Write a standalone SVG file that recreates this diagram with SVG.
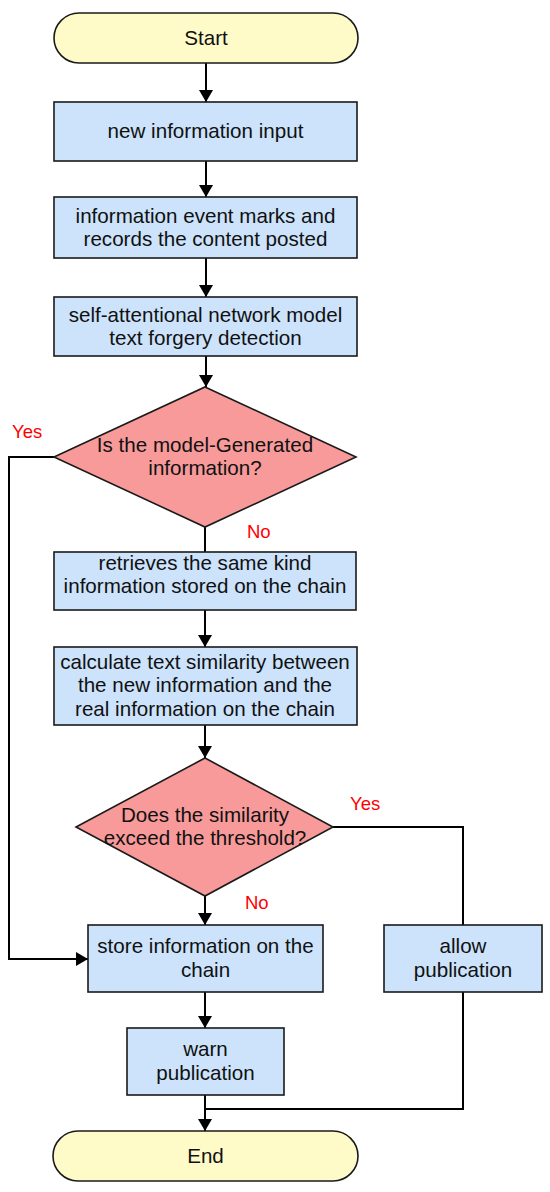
<svg xmlns="http://www.w3.org/2000/svg" width="550" height="1192" viewBox="0 0 550 1192">
<style>
.term{fill:#FFFBC9;stroke:#1a1a1a;stroke-width:1.6}
.box{fill:#CCE3FB;stroke:#1a1a1a;stroke-width:1.6}
.dec{fill:#F89A9A;stroke:#1a1a1a;stroke-width:1.6}
.t{font-family:"Liberation Sans",Arial,sans-serif;font-size:20.6px;fill:#111;text-anchor:middle}
.lbl{font-family:"Liberation Sans",Arial,sans-serif;font-size:18.5px;fill:#ff0000}
.c{fill:none;stroke:#000;stroke-width:2}
</style>
<defs>
<marker id="ah" markerWidth="12" markerHeight="14" refX="12" refY="7" orient="auto" markerUnits="userSpaceOnUse">
<path d="M0,0 L12,7 L0,14 Z" fill="#000"/>
</marker>
</defs>
<rect width="550" height="1192" fill="#fff"/>
<g id="connectors">
<path class="c" d="M206,63 V102" marker-end="url(#ah)"/>
<path class="c" d="M206,161 V197" marker-end="url(#ah)"/>
<path class="c" d="M206,258 V297" marker-end="url(#ah)"/>
<path class="c" d="M206,356 V387" marker-end="url(#ah)"/>
<path class="c" d="M205,527 V552"/>
<path class="c" d="M205,610 V647" marker-end="url(#ah)"/>
<path class="c" d="M205,725 V758" marker-end="url(#ah)"/>
<path class="c" d="M205,896 V925" marker-end="url(#ah)"/>
<path class="c" d="M54,457 H9 V959 H88" marker-end="url(#ah)"/>
<path class="c" d="M333,827 H463 V925"/>
<path class="c" d="M205,992 V1028" marker-end="url(#ah)"/>
<path class="c" d="M205,1095 V1131" marker-end="url(#ah)"/>
<path class="c" d="M463,992 V1109 H205"/>
</g>
<g id="start">
<rect class="term" x="54" y="13" width="304" height="50" rx="25"/>
<text class="t" x="206" y="44.5">Start</text>
</g>
<g id="input">
<rect class="box" x="54" y="102" width="303" height="59"/>
<text class="t" x="205.5" y="138">new information input</text>
</g>
<g id="marks">
<rect class="box" x="54" y="197" width="303" height="61"/>
<text class="t" x="205.5" y="222.5">information event marks and</text>
<text class="t" x="205.5" y="245.8">records the content posted</text>
</g>
<g id="detect">
<rect class="box" x="54" y="297" width="303" height="59"/>
<text class="t" x="205.5" y="321.5">self-attentional network model</text>
<text class="t" x="205.5" y="344.8">text forgery detection</text>
</g>
<g id="dec1">
<polygon class="dec" points="205,387 356,457 205,527 54,457"/>
<text class="t" x="205" y="451.5">Is the model-Generated</text>
<text class="t" x="205" y="474.8">information?</text>
</g>
<g id="retrieve">
<rect class="box" x="54" y="552" width="302" height="58"/>
<text class="t" x="205" y="570">retrieves the same kind</text>
<text class="t" x="205" y="593.3">information stored on the chain</text>
</g>
<g id="calc">
<rect class="box" x="54" y="647" width="303" height="78"/>
<text class="t" x="205" y="669">calculate text similarity between</text>
<text class="t" x="205" y="692.3">the new information and the</text>
<text class="t" x="205" y="715.6">real information on the chain</text>
</g>
<g id="dec2">
<polygon class="dec" points="205,758 333,827 205,896 76,827"/>
<text class="t" x="205" y="821.8">Does the similarity</text>
<text class="t" x="205" y="845.1">exceed the threshold?</text>
</g>
<g id="store">
<rect class="box" x="88" y="925" width="235" height="67"/>
<text class="t" x="205.5" y="953.3">store information on the</text>
<text class="t" x="205.5" y="976.6">chain</text>
</g>
<g id="allow">
<rect class="box" x="384" y="925" width="158" height="67"/>
<text class="t" x="463" y="953.3">allow</text>
<text class="t" x="463" y="976.6">publication</text>
</g>
<g id="warn">
<rect class="box" x="127" y="1028" width="157" height="67"/>
<text class="t" x="205.5" y="1056.3">warn</text>
<text class="t" x="205.5" y="1079.6">publication</text>
</g>
<g id="end">
<rect class="term" x="53" y="1131" width="305" height="50" rx="25"/>
<text class="t" x="205.5" y="1162.5">End</text>
</g>
<g id="labels">
<text class="lbl" x="12" y="438">Yes</text>
<text class="lbl" x="247" y="538">No</text>
<text class="lbl" x="350" y="810">Yes</text>
<text class="lbl" x="245" y="909">No</text>
</g>
</svg>
